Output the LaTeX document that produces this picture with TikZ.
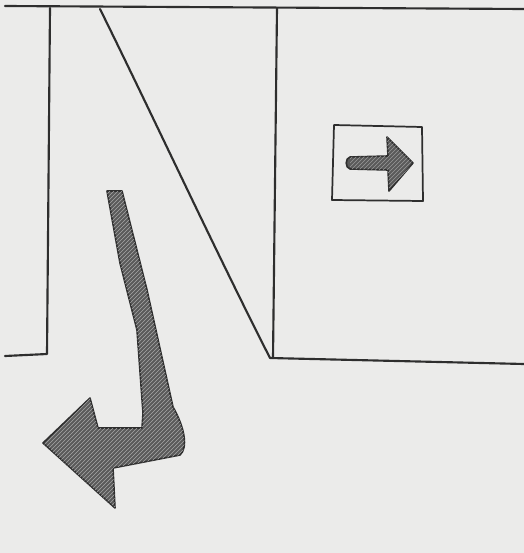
\documentclass[tikz,border=0pt]{standalone}
\usetikzlibrary{patterns}
\definecolor{paper}{HTML}{EBEBEA}
\definecolor{ink}{HTML}{2E2E2E}
\definecolor{shade}{HTML}{5A5A5A}
\tikzset{
  pen/.style={draw=ink, line width=1.6pt, line join=round, line cap=round},
  thickarrow/.style={draw=ink, line width=1.2pt, fill=shade, line join=round},
}
\begin{document}
\begin{tikzpicture}[x=0.75pt, y=-0.75pt]
\fill[paper] (0,0) rectangle (524,553);
\useasboundingbox (0,0) rectangle (524,553);
% frame lines
\draw[pen] (5,6) -- (524,9);
\draw[pen] (50,8) -- (47,354) -- (5,356);
\draw[pen] (100,9) .. controls (150,110) and (215,250) .. (270,358) -- (524,364);
\draw[pen] (277,8) -- (273,358);
% small button with arrow
\draw[pen, line width=1.3pt] (334,125) -- (422,127) -- (423,201) -- (332,200) -- cycle;
\draw[thickarrow] (350,157) -- (388,156) -- (387,137) -- (413,163) -- (389,191) -- (388,170) -- (350,169)
  .. controls (345,168) and (345,158) .. (350,157) -- cycle;
\fill[pattern=north east lines, pattern color=black!40]
  (350,157) -- (388,156) -- (387,137) -- (413,163) -- (389,191) -- (388,170) -- (350,169) -- cycle;
% big bent arrow
\def\bigarrow{(107,191) -- (122,191) -- (147,290) -- (173,407)
  .. controls (185,428) and (188,448) .. (180,455)
  -- (113,468) -- (115,508) -- (43,443) -- (90,398) -- (98,428) -- (142,428)
  -- (143,413) -- (137,330) -- (120,263) -- cycle}
\draw[thickarrow] \bigarrow;
\fill[pattern=north east lines, pattern color=black!35] \bigarrow;
\end{tikzpicture}
\end{document}
